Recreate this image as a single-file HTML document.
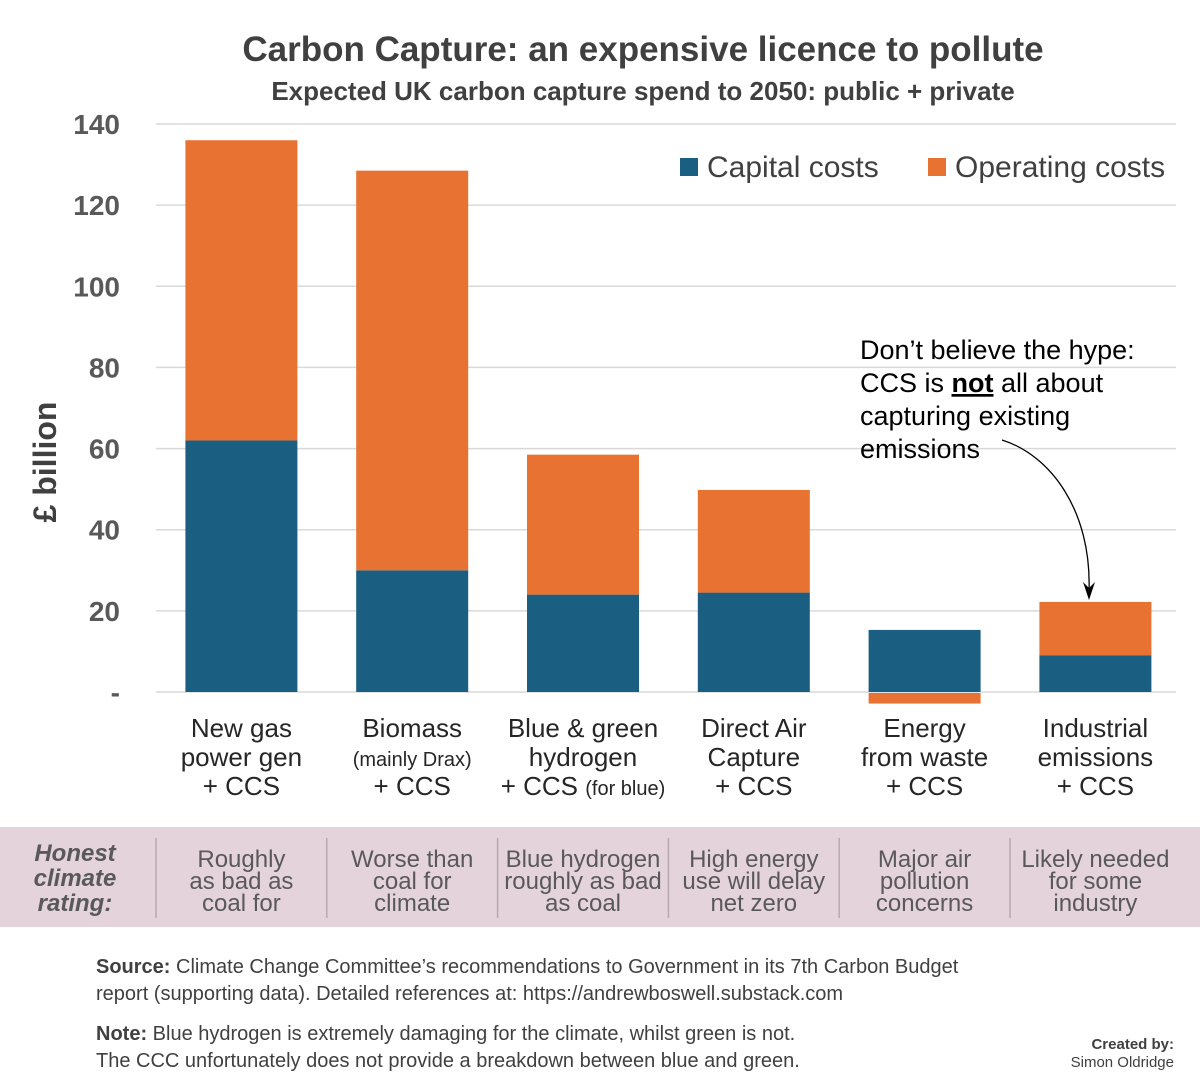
<!DOCTYPE html>
<html><head><meta charset="utf-8"><style>
body{margin:0;background:#fff;}
svg{display:block;font-family:"Liberation Sans",sans-serif;}
</style></head><body>
<svg width="1200" height="1092" viewBox="0 0 1200 1092">
<text x="643" y="61" text-anchor="middle" font-size="35" font-weight="bold" fill="#404040">Carbon Capture: an expensive licence to pollute</text>
<text x="643" y="100" text-anchor="middle" font-size="26" font-weight="bold" fill="#404040">Expected UK carbon capture spend to 2050: public + private</text>
<g id="grid"></g>
<g id="yticks"></g>
<text transform="translate(56,462) rotate(-90)" text-anchor="middle" font-size="32" font-weight="bold" fill="#404040">£ billion</text>
<g id="bars"></g>
<g id="xlabels" font-size="26" fill="#262626" text-anchor="middle"></g>
<g>
<rect x="680" y="158" width="18" height="18" fill="#1a5f82"/>
<text x="707" y="177" font-size="30" fill="#404040">Capital costs</text>
<rect x="928" y="158" width="18" height="18" fill="#e87232"/>
<text x="955" y="177" font-size="30" fill="#404040">Operating costs</text>
</g>
<g font-size="27" fill="#000">
<text x="860" y="359">Don’t believe the hype:</text>
<text x="860" y="392">CCS is <tspan font-weight="bold" text-decoration="underline">not</tspan> all about</text>
<text x="860" y="425">capturing existing</text>
<text x="860" y="458">emissions</text>
</g>
<path d="M1002,440 C1050,455 1092,510 1089,592" fill="none" stroke="#000" stroke-width="1.3"/>
<path d="M1083,582 L1089,600 L1095,582 L1089,588 Z" fill="#000"/>
<rect x="0" y="827" width="1200" height="100" fill="#e4d3db"/>
<g id="ratings" font-size="24" fill="#595959" text-anchor="middle"></g>
<text x="75" y="861" text-anchor="middle" font-size="24" font-weight="bold" font-style="italic" fill="#595959"><tspan x="75" y="861">Honest</tspan><tspan x="75" dy="25">climate</tspan><tspan x="75" dy="25">rating:</tspan></text>
<g font-size="20" fill="#404040">
<text x="96" y="973"><tspan font-weight="bold">Source:</tspan> Climate Change Committee’s recommendations to Government in its 7th Carbon Budget</text>
<text x="96" y="1000">report (supporting data). Detailed references at: https://andrewboswell.substack.com</text>
<text x="96" y="1040"><tspan font-weight="bold">Note:</tspan> Blue hydrogen is extremely damaging for the climate, whilst green is not.</text>
<text x="96" y="1067">The CCC unfortunately does not provide a breakdown between blue and green.</text>
</g>
<text x="1174" y="1049" text-anchor="end" font-size="15" font-weight="bold" fill="#404040">Created by:</text>
<text x="1174" y="1067" text-anchor="end" font-size="15" fill="#404040">Simon Oldridge</text>
</svg>
<script>
const categories=["New gas power gen","Biomass","Blue & green hydrogen","Direct Air Capture","Energy from waste","Industrial emissions"];
const capital=[62,30,24,24.5,15.3,9];
const operating=[74,98.5,34.5,25.3,-2.6,13.2];
const yTicks=[0,20,40,60,80,100,120,140];
const yTickLabels=["-","20","40","60","80","100","120","140"];
const ratings=[["Roughly","as bad as","coal for"],["Worse than","coal for","climate"],["Blue hydrogen","roughly as bad","as coal"],["High energy","use will delay","net zero"],["Major air","pollution","concerns"],["Likely needed","for some","industry"]];
const NS="http://www.w3.org/2000/svg";
const y0=692,pxPer=568/140,x0=156,step=170.8,bw=112;
const y=v=>y0-v*pxPer;
const xc=i=>x0+step*(i+0.5);
function mk(tag,attrs,parent){const e=document.createElementNS(NS,tag);for(const k in attrs)e.setAttribute(k,attrs[k]);parent.appendChild(e);return e;}
const grid=document.getElementById('grid'),yt=document.getElementById('yticks');
yTicks.forEach((t,i)=>{
 const l=mk('line',{x1:156,x2:1176,y1:y(t),y2:y(t),stroke:'#d9d9d9','stroke-width':1.5},grid);
 
 
 const tx=mk('text',{x:120,y:y(t)+10,'text-anchor':'end','font-size':28,'font-weight':'bold',fill:'#595959'},yt);
 tx.textContent=yTickLabels[i];
 
 
});
const bars=document.getElementById('bars');
categories.forEach((c,i)=>{
 const x=xc(i)-bw/2;
 const cap=mk('rect',{x:x,y:y(capital[i]),width:bw,height:capital[i]*pxPer,fill:'#1a5f82'},bars);
 
 
 const o=operating[i];
 let r;
 if(o>=0) r=mk('rect',{x:x,y:y(capital[i]+o),width:bw,height:o*pxPer,fill:'#e87232'},bars);
 else r=mk('rect',{x:x,y:y(0)+1,width:bw,height:-o*pxPer,fill:'#e87232'},bars);
 
 
});
const xl=document.getElementById('xlabels');
const labs=[[["New gas",0],["power gen",0],["+ CCS",0]],[["Biomass",0],["(mainly Drax)",1],["+ CCS",0]],[["Blue & green",0],["hydrogen",0],["+ CCS (for blue)",2]],[["Direct Air",0],["Capture",0],["+ CCS",0]],[["Energy",0],["from waste",0],["+ CCS",0]],[["Industrial",0],["emissions",0],["+ CCS",0]]];
labs.forEach((L,i)=>{
 L.forEach((p,j)=>{
  const t=mk('text',{x:xc(i),y:737+j*29},xl);
  if(p[1]===1){t.setAttribute('font-size','20');}
  if(p[1]===2){t.innerHTML='+ CCS <tspan font-size="20">(for blue)</tspan>';}else t.textContent=p[0];
  
  
 });
});
const rg=document.getElementById('ratings');
ratings.forEach((R,i)=>{
 const sx=xc(i)-step/2;
 const ln=mk('line',{x1:sx,x2:sx,y1:838,y2:918,stroke:'#b8a9b0','stroke-width':1.5},rg);
 
 
 R.forEach((s,j)=>{
  const t=mk('text',{x:xc(i),y:867+j*22},rg);
  t.textContent=s;
  
  
 });
});
</script>
</body></html>
